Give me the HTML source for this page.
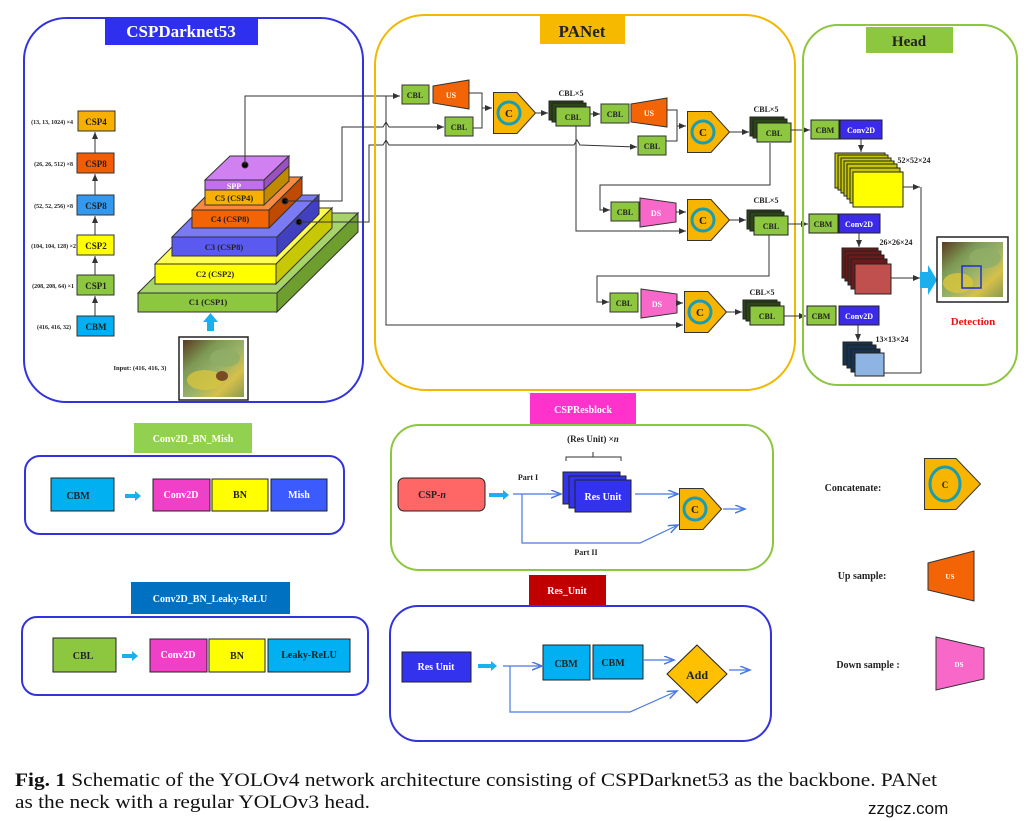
<!DOCTYPE html>
<html><head><meta charset="utf-8"><style>
html,body{margin:0;padding:0;background:#fff}
svg{display:block}
text{font-family:"Liberation Serif",serif;font-weight:bold}
</style></head><body>
<svg width="1029" height="821" viewBox="0 0 1029 821" xmlns="http://www.w3.org/2000/svg">
<defs>
<marker id="ar" markerWidth="8" markerHeight="8" refX="7" refY="3" orient="auto" markerUnits="userSpaceOnUse"><path d="M0,0 L7,3 L0,6 z" fill="#333"/></marker>
<marker id="ab" markerWidth="12" markerHeight="10" refX="10" refY="4" orient="auto" markerUnits="userSpaceOnUse"><path d="M0,0 L10,4 L0,8" fill="none" stroke="#4a78e0" stroke-width="1.5"/></marker>
<linearGradient id="leaf" x1="0" y1="0" x2="1" y2="1">
<stop offset="0" stop-color="#5a3a20"/><stop offset="0.3" stop-color="#7d9a55"/><stop offset="0.55" stop-color="#9ab36a"/><stop offset="0.75" stop-color="#d6c04a"/><stop offset="1" stop-color="#8a9a50"/></linearGradient>
<symbol id="cat" viewBox="0 0 43 42"><polygon points="0.5,0.5 24,0.5 42.5,21 24,41.5 0.5,41.5" fill="#f7b500" stroke="#333" stroke-width="1"/><circle cx="16" cy="21" r="11" fill="#f7b500" stroke="#1b9cb0" stroke-width="3"/><text x="16" y="25" font-size="11" text-anchor="middle" fill="#222">C</text></symbol>
</defs>

<!-- CSPDarknet53 -->
<rect x="24" y="18" width="339" height="384" rx="42" fill="none" stroke="#3333dd" stroke-width="2"/>
<rect x="105" y="17" width="153" height="28" fill="#2f2ff0"/>
<text x="181" y="37" font-size="17" fill="#fff" text-anchor="middle">CSPDarknet53</text>

<g font-size="6" fill="#222" text-anchor="end">
<text x="73" y="124">(13, 13, 1024) ×4</text>
<text x="73" y="166">(26, 26, 512) ×8</text>
<text x="73" y="208">(52, 52, 256) ×8</text>
<text x="76" y="248">(104, 104, 128) ×2</text>
<text x="74" y="288">(208, 208, 64) ×1</text>
<text x="71" y="329">(416, 416, 32)</text>
</g>
<g stroke="#333" stroke-width="1" font-size="10">
<line x1="95" y1="316" x2="95" y2="296" marker-end="url(#ar)"/>
<line x1="95" y1="275" x2="95" y2="256" marker-end="url(#ar)"/>
<line x1="95" y1="235" x2="95" y2="216" marker-end="url(#ar)"/>
<line x1="95" y1="195" x2="95" y2="174" marker-end="url(#ar)"/>
<line x1="95" y1="153" x2="95" y2="132" marker-end="url(#ar)"/>
<rect x="78" y="111" width="37" height="20" fill="#f7b000"/>
<rect x="77" y="153" width="37" height="20" fill="#f25c05"/>
<rect x="77" y="195" width="37" height="20" fill="#3399ee"/>
<rect x="77" y="235" width="37" height="20" fill="#ffff00"/>
<rect x="77" y="275" width="37" height="20" fill="#8dc63f"/>
<rect x="77" y="316" width="37" height="20" fill="#00b0f0"/>
</g>
<g font-size="9" fill="#222" text-anchor="middle">
<text x="96" y="125">CSP4</text><text x="96" y="167">CSP8</text><text x="96" y="209">CSP8</text>
<text x="96" y="249">CSP2</text><text x="96" y="289">CSP1</text><text x="96" y="330">CBM</text>
</g>

<!-- pyramid -->
<g stroke="#333" stroke-width="1">
<polygon points="138,293 219,213 358,213 277,293" fill="#a6d46a"/><polygon points="277,293 358,213 358,232 277,312" fill="#6e9f2e"/><rect x="138" y="293" width="139" height="19" fill="#8dc63f"/>
<polygon points="155,264 211,208 332,208 276,264" fill="#ffff55"/><polygon points="276,264 332,208 332,228 276,284" fill="#c8c800"/><rect x="155" y="264" width="121" height="20" fill="#ffff00"/>
<polygon points="172,237 214,195 319,195 277,237" fill="#7a7af5"/><polygon points="277,237 319,195 319,214 277,256" fill="#4040c0"/><rect x="172" y="237" width="105" height="19" fill="#5a5af0"/>
<polygon points="192,210 225,177 302,177 269,210" fill="#f88a40"/><polygon points="269,210 302,177 302,195 269,228" fill="#c04a00"/><rect x="192" y="210" width="77" height="18" fill="#f26405"/>
<polygon points="205,180 230,156 289,156 264,180" fill="#d080f0"/><polygon points="264,180 289,156 289,166 264,190" fill="#9a50c0"/><polygon points="264,190 289,166 289,181 264,205" fill="#c08a00"/><rect x="205" y="180" width="59" height="10" fill="#c070ee"/><rect x="205" y="190" width="59" height="15" fill="#f7b000"/>
</g>
<g font-size="8.5" text-anchor="middle" fill="#222">
<text x="208" y="305">C1 (CSP1)</text><text x="215" y="277">C2 (CSP2)</text><text x="224" y="250">C3 (CSP8)</text><text x="230" y="222">C4 (CSP8)</text><text x="234" y="201">C5 (CSP4)</text><text x="234" y="189" fill="#fff" font-size="8">SPP</text>
</g>
<polygon points="203,322 210.5,313 218,322 214,322 214,331 207,331 207,322" fill="#1ab0ee"/>
<rect x="179" y="337" width="69" height="63" fill="#fff" stroke="#222" stroke-width="1.5"/>
<rect x="183" y="340" width="61" height="57" fill="url(#leaf)"/>
<ellipse cx="205" cy="380" rx="18" ry="10" fill="#d7c43e" opacity="0.8"/><ellipse cx="225" cy="358" rx="15" ry="9" fill="#8fae66" opacity="0.8"/><ellipse cx="222" cy="376" rx="6" ry="5" fill="#7a4a25"/>
<text x="140" y="370" font-size="6.5" text-anchor="middle" fill="#222">Input: (416, 416, 3)</text>

<!-- backbone lines -->
<g fill="none" stroke="#333" stroke-width="1">
<circle cx="245" cy="165" r="3" fill="#000"/><circle cx="285" cy="201" r="3" fill="#000"/><circle cx="299" cy="222" r="3" fill="#000"/>
<polyline points="245,165 245,96 400,96" marker-end="url(#ar)"/>
<polyline points="285,201 342,201 342,127 383,127 386,122 389,127 444,127" marker-end="url(#ar)"/>
<polyline points="299,222 369,222 369,145 383,145 386,140 389,145 574,145 577,140 580,145 637,147" marker-end="url(#ar)"/>
<polyline points="386,96 386,325 683,325" marker-end="url(#ar)"/>
</g>

<!-- PANet -->
<rect x="375" y="15" width="420" height="375" rx="50" fill="none" stroke="#f0b800" stroke-width="2"/>
<rect x="540" y="16" width="85" height="28" fill="#f7b900"/>
<text x="582" y="37" font-size="17" fill="#222" text-anchor="middle">PANet</text>

<g stroke="#333" stroke-width="1">
<polygon points="433,86 469,80 469,109 433,103" fill="#f26405"/>
<polygon points="631,104 667,98 667,127 631,122" fill="#f26405"/>
<polygon points="640,198 676,203 676,222 640,227" fill="#f768c8"/>
<polygon points="641,289 677,294 677,313 641,318" fill="#f768c8"/>
<rect x="402" y="85" width="27" height="19" fill="#8dc63f"/>
<rect x="445" y="117" width="28" height="19" fill="#8dc63f"/>
<rect x="601" y="104" width="28" height="19" fill="#8dc63f"/>
<rect x="638" y="136" width="28" height="19" fill="#8dc63f"/>
<rect x="611" y="202" width="28" height="19" fill="#8dc63f"/>
<rect x="610" y="293" width="28" height="19" fill="#8dc63f"/>
</g>
<g font-size="8" fill="#222" text-anchor="middle">
<text x="415" y="98">CBL</text><text x="459" y="130">CBL</text><text x="615" y="117">CBL</text><text x="652" y="149">CBL</text><text x="625" y="215">CBL</text><text x="624" y="306">CBL</text>
</g>
<g font-size="8" fill="#fff" text-anchor="middle"><text x="451" y="98">US</text><text x="649" y="116">US</text><text x="656" y="216">DS</text><text x="657" y="307">DS</text></g>

<use href="#cat" x="493" y="92" width="43" height="42"/>
<use href="#cat" x="687" y="111" width="43" height="42"/>
<use href="#cat" x="687" y="199" width="43" height="42"/>
<use href="#cat" x="684" y="291" width="43" height="42"/>

<!-- CBL x5 stacks -->
<g stroke="#222" stroke-width="1">
<g transform="translate(549,101)"><rect x="0" y="0" width="34" height="19" fill="#2b4418"/><rect x="3" y="2" width="34" height="19" fill="#2b4418"/><rect x="7" y="6" width="34" height="19" fill="#8dc63f"/></g>
<g transform="translate(750,117)"><rect x="0" y="0" width="34" height="19" fill="#2b4418"/><rect x="3" y="2" width="34" height="19" fill="#2b4418"/><rect x="7" y="6" width="34" height="19" fill="#8dc63f"/></g>
<g transform="translate(747,210)"><rect x="0" y="0" width="34" height="19" fill="#2b4418"/><rect x="3" y="2" width="34" height="19" fill="#2b4418"/><rect x="7" y="6" width="34" height="19" fill="#8dc63f"/></g>
<g transform="translate(743,300)"><rect x="0" y="0" width="34" height="19" fill="#2b4418"/><rect x="3" y="2" width="34" height="19" fill="#2b4418"/><rect x="7" y="6" width="34" height="19" fill="#8dc63f"/></g>
</g>
<g font-size="8" fill="#222" text-anchor="middle">
<text x="573" y="120">CBL</text><text x="774" y="136">CBL</text><text x="771" y="229">CBL</text><text x="767" y="319">CBL</text>
<text x="571" y="96">CBL×5</text><text x="766" y="112">CBL×5</text><text x="766" y="203">CBL×5</text><text x="762" y="295">CBL×5</text>
</g>

<g fill="none" stroke="#333" stroke-width="1">
<polyline points="469,93 482,93 482,128 473,128"/><line x1="482" y1="108" x2="492" y2="108" marker-end="url(#ar)"/>
<line x1="536" y1="113" x2="548" y2="113" marker-end="url(#ar)"/>
<line x1="590" y1="114" x2="600" y2="114" marker-end="url(#ar)"/>
<polyline points="667,110 677,110 677,141 666,141"/><line x1="677" y1="126" x2="686" y2="126" marker-end="url(#ar)"/>
<line x1="730" y1="132" x2="749" y2="132" marker-end="url(#ar)"/>
<line x1="791" y1="130" x2="810" y2="130" marker-end="url(#ar)"/>
<polyline points="770,143 770,185 600,185 600,210 610,210" marker-end="url(#ar)"/>
<line x1="676" y1="212" x2="686" y2="212" marker-end="url(#ar)"/>
<polyline points="576,126 576,231 686,231" marker-end="url(#ar)"/>
<line x1="730" y1="220" x2="746" y2="220" marker-end="url(#ar)"/>
<line x1="788" y1="224" x2="808" y2="224" marker-end="url(#ar)"/>
<polyline points="769,235 769,276 597,276 597,302 609,302" marker-end="url(#ar)"/>
<line x1="677" y1="303" x2="683" y2="303" marker-end="url(#ar)"/>
<line x1="727" y1="312" x2="742" y2="312" marker-end="url(#ar)"/>
<line x1="784" y1="316" x2="806" y2="316" marker-end="url(#ar)"/>
</g>

<!-- Head -->
<rect x="803" y="25" width="214" height="360" rx="35" fill="none" stroke="#8dc63f" stroke-width="2"/>
<rect x="866" y="27" width="87" height="26" fill="#8dc63f"/>
<text x="909" y="46" font-size="15" fill="#222" text-anchor="middle">Head</text>
<g stroke="#222" stroke-width="1">
<rect x="811" y="120" width="28" height="19" fill="#8dc63f"/><rect x="840" y="120" width="42" height="19" fill="#3b2ae8"/>
<rect x="809" y="214" width="29" height="19" fill="#8dc63f"/><rect x="839" y="214" width="41" height="19" fill="#3b2ae8"/>
<rect x="807" y="306" width="29" height="19" fill="#8dc63f"/><rect x="839" y="306" width="40" height="19" fill="#3b2ae8"/>
</g>
<g font-size="8" text-anchor="middle"><text x="825" y="133" fill="#222">CBM</text><text x="861" y="133" fill="#fff">Conv2D</text>
<text x="823" y="227" fill="#222">CBM</text><text x="859" y="227" fill="#fff">Conv2D</text>
<text x="821" y="319" fill="#222">CBM</text><text x="859" y="319" fill="#fff">Conv2D</text></g>
<g stroke="#222" stroke-width="1">
<rect x="835" y="153" width="50" height="35" fill="#c8c800"/><rect x="838" y="155" width="50" height="35" fill="#c8c800"/><rect x="841" y="158" width="50" height="35" fill="#c8c800"/><rect x="844" y="161" width="50" height="35" fill="#c8c800"/><rect x="847" y="164" width="50" height="35" fill="#c8c800"/><rect x="850" y="168" width="50" height="35" fill="#c8c800"/><rect x="853" y="172" width="50" height="35" fill="#ffff00"/>
<rect x="842" y="248" width="36" height="30" fill="#6a1a1a"/><rect x="845" y="251" width="36" height="30" fill="#6a1a1a"/><rect x="848" y="255" width="36" height="30" fill="#6a1a1a"/><rect x="851" y="259" width="36" height="30" fill="#6a1a1a"/><rect x="855" y="264" width="36" height="30" fill="#c0504d"/>
<rect x="843" y="342" width="29" height="23" fill="#17324f"/><rect x="847" y="345" width="29" height="23" fill="#17324f"/><rect x="851" y="349" width="29" height="23" fill="#17324f"/><rect x="855" y="353" width="29" height="23" fill="#8db4e2"/>
</g>
<g font-size="8" fill="#222" text-anchor="middle"><text x="914" y="163">52×52×24</text><text x="896" y="245">26×26×24</text><text x="892" y="342">13×13×24</text></g>
<g fill="none" stroke="#333" stroke-width="1">
<line x1="861" y1="139" x2="861" y2="152" marker-end="url(#ar)"/>
<line x1="859" y1="233" x2="859" y2="247" marker-end="url(#ar)"/>
<line x1="858" y1="325" x2="858" y2="341" marker-end="url(#ar)"/>
<line x1="921" y1="187" x2="921" y2="373"/>
<line x1="903" y1="187" x2="920" y2="187" marker-end="url(#ar)"/>
<line x1="891" y1="278" x2="920" y2="278" marker-end="url(#ar)"/>
<line x1="884" y1="373" x2="921" y2="373"/>
</g>
<polygon points="920,272 928,272 928,265 937,280 928,295 928,288 920,288" fill="#1ab0ee"/>
<rect x="937" y="237" width="71" height="65" fill="#fff" stroke="#222" stroke-width="1.5"/>
<rect x="942" y="242" width="61" height="55" fill="url(#leaf)"/>
<ellipse cx="958" cy="283" rx="15" ry="10" fill="#d7c43e" opacity="0.85"/><ellipse cx="985" cy="258" rx="16" ry="10" fill="#8fae66" opacity="0.8"/>
<rect x="962" y="266" width="19" height="22" fill="none" stroke="#2030d0" stroke-width="1.5"/>
<text x="973" y="325" font-size="11" fill="#ee1111" text-anchor="middle">Detection</text>

<!-- Conv2D_BN_Mish -->
<rect x="134" y="423" width="118" height="30" fill="#92d050"/>
<text x="193" y="442" font-size="10" fill="#fff" text-anchor="middle">Conv2D_BN_Mish</text>
<rect x="25" y="456" width="319" height="78" rx="15" fill="none" stroke="#3333dd" stroke-width="2"/>
<g stroke="#222" stroke-width="1">
<rect x="51" y="478" width="63" height="33" fill="#00b0f0"/>
<rect x="153" y="479" width="57" height="32" fill="#f040c8"/><rect x="212" y="479" width="56" height="32" fill="#ffff00"/><rect x="271" y="479" width="56" height="32" fill="#3b5bff"/>
<rect x="53" y="638" width="63" height="34" fill="#8dc63f"/>
<rect x="150" y="639" width="57" height="33" fill="#f040c8"/><rect x="209" y="639" width="56" height="33" fill="#ffff00"/><rect x="268" y="639" width="82" height="33" fill="#00b0f0"/>
</g>
<g font-size="10" text-anchor="middle">
<text x="78" y="499" fill="#222">CBM</text><text x="181" y="498" fill="#fff">Conv2D</text><text x="240" y="498" fill="#222">BN</text><text x="299" y="498" fill="#fff">Mish</text>
<text x="83" y="659" fill="#222">CBL</text><text x="178" y="658" fill="#fff">Conv2D</text><text x="237" y="659" fill="#222">BN</text><text x="309" y="658" fill="#222">Leaky-ReLU</text>
</g>
<polygon points="125,494 135,494 135,491 141,496 135,501 135,498 125,498" fill="#1ab0ee"/>
<polygon points="122,654 132,654 132,651 138,656 132,661 132,658 122,658" fill="#1ab0ee"/>
<rect x="131" y="582" width="159" height="32" fill="#0070c0"/>
<text x="210" y="602" font-size="10" fill="#fff" text-anchor="middle">Conv2D_BN_Leaky-ReLU</text>
<rect x="22" y="617" width="346" height="78" rx="15" fill="none" stroke="#3333dd" stroke-width="2"/>

<!-- CSPResblock -->
<rect x="530" y="393" width="106" height="32" fill="#ff33cc"/>
<text x="583" y="413" font-size="10" fill="#fff" text-anchor="middle">CSPResblock</text>
<rect x="391" y="425" width="382" height="145" rx="28" fill="none" stroke="#8dc63f" stroke-width="2"/>
<rect x="398" y="478" width="87" height="33" rx="6" fill="#ff6666" stroke="#222" stroke-width="1"/>
<text x="432" y="498" font-size="10" fill="#222" text-anchor="middle">CSP-<tspan font-style="italic">n</tspan></text>
<polygon points="489,493 503,493 503,490 509,495 503,500 503,497 489,497" fill="#1ab0ee"/>
<text x="528" y="480" font-size="8" fill="#222" text-anchor="middle">Part I</text>
<text x="586" y="555" font-size="8" fill="#222" text-anchor="middle">Part II</text>
<text x="593" y="442" font-size="9" fill="#222" text-anchor="middle">(Res Unit) ×<tspan font-style="italic">n</tspan></text>
<path d="M566,461 L566,457 L593,457 L593,452 M593,457 L621,457 L621,461" fill="none" stroke="#333" stroke-width="1"/>
<g stroke="#222" stroke-width="1"><rect x="563" y="472" width="57" height="32" fill="#3333ee"/><rect x="569" y="476" width="57" height="32" fill="#3333ee"/><rect x="575" y="480" width="56" height="32" fill="#3333ee"/></g>
<text x="603" y="500" font-size="10" fill="#fff" text-anchor="middle">Res Unit</text>
<g fill="none" stroke="#4a78e0" stroke-width="1.2">
<line x1="513" y1="494" x2="561" y2="494" marker-end="url(#ab)"/>
<polyline points="522,494 522,543 640,543 678,525" marker-end="url(#ab)"/>
<line x1="635" y1="494" x2="678" y2="494" marker-end="url(#ab)"/>
<line x1="723" y1="509" x2="745" y2="509" marker-end="url(#ab)"/>
</g>
<use href="#cat" x="679" y="488" width="43" height="42"/>

<!-- Res_Unit -->
<rect x="529" y="575" width="77" height="30" fill="#c00000"/>
<text x="567" y="594" font-size="10" fill="#fff" text-anchor="middle">Res_Unit</text>
<rect x="390" y="606" width="381" height="135" rx="28" fill="none" stroke="#3333dd" stroke-width="2"/>
<rect x="402" y="652" width="69" height="30" fill="#3333ee" stroke="#222" stroke-width="1"/>
<text x="436" y="670" font-size="10" fill="#fff" text-anchor="middle">Res Unit</text>
<polygon points="478,664 491,664 491,661 497,666 491,671 491,668 478,668" fill="#1ab0ee"/>
<g stroke="#222" stroke-width="1"><rect x="543" y="645" width="47" height="35" fill="#00b0f0"/><rect x="593" y="645" width="50" height="34" fill="#00b0f0"/></g>
<g font-size="10" fill="#222" text-anchor="middle"><text x="566" y="667">CBM</text><text x="613" y="666">CBM</text></g>
<polygon points="697,645 727,674 697,703 667,674" fill="#ffc000" stroke="#222" stroke-width="1"/>
<text x="697" y="679" font-size="12" fill="#222" text-anchor="middle">Add</text>
<g fill="none" stroke="#4a78e0" stroke-width="1.2">
<line x1="503" y1="666" x2="542" y2="666" marker-end="url(#ab)"/>
<polyline points="510,666 510,712 630,712 677,691" marker-end="url(#ab)"/>
<line x1="643" y1="660" x2="674" y2="660" marker-end="url(#ab)"/>
<line x1="729" y1="670" x2="750" y2="670" marker-end="url(#ab)"/>
</g>

<!-- legend -->
<text x="853" y="491" font-size="10" fill="#222" text-anchor="middle">Concatenate:</text>
<g transform="translate(924,458)"><polygon points="0.5,0.5 32,0.5 56.5,26 32,51.5 0.5,51.5" fill="#f7b500" stroke="#333" stroke-width="1"/><ellipse cx="21" cy="26" rx="15" ry="17" fill="#f7b500" stroke="#1b9cb0" stroke-width="3"/><text x="21" y="30" font-size="9" text-anchor="middle" fill="#222">C</text></g>
<text x="862" y="579" font-size="10" fill="#222" text-anchor="middle">Up sample:</text>
<polygon points="928,563 974,551 974,601 928,590" fill="#f26405" stroke="#333" stroke-width="1"/>
<text x="950" y="579" font-size="7" fill="#fff" text-anchor="middle">US</text>
<text x="868" y="668" font-size="10" fill="#222" text-anchor="middle">Down sample :</text>
<polygon points="936,637 984,648 984,679 936,690" fill="#f768c8" stroke="#333" stroke-width="1"/>
<text x="959" y="667" font-size="7" fill="#fff" text-anchor="middle">DS</text>

<!-- caption -->
<text x="15" y="786" font-size="19" fill="#111" style="font-weight:normal" textLength="922" lengthAdjust="spacingAndGlyphs"><tspan style="font-weight:bold">Fig. 1</tspan>  Schematic of the YOLOv4 network architecture consisting of CSPDarknet53 as the backbone. PANet</text>
<text x="15" y="808" font-size="19" fill="#111" style="font-weight:normal" textLength="355" lengthAdjust="spacingAndGlyphs">as the neck with a regular YOLOv3 head.</text>
<text x="868" y="814" font-size="17" fill="#111" style="font-family:'Liberation Sans',sans-serif;font-weight:normal">zzgcz.com</text>
</svg>
</body></html>
